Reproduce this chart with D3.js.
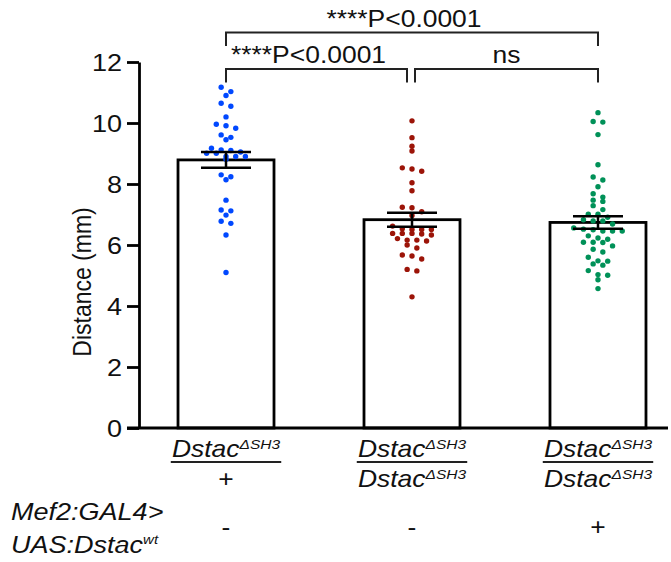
<!DOCTYPE html>
<html><head><meta charset="utf-8">
<script src="https://cdn.jsdelivr.net/npm/d3@7"></script>
<style>body{margin:0;background:#fff} text{font-family:"Liberation Sans",Arial,Helvetica,sans-serif;fill:#111}</style>
</head><body><svg id="c" width="671" height="562"></svg>
<script>
// ---------- data ----------
const groups = ["ctrl", "mutant", "rescue"];
const means = [8.79, 6.83, 6.74];
const sems = [0.26, 0.23, 0.205];
const colors = ["#0048ff", "#9c1408", "#009158"];
const ctrlValues = [11.17, 11.03, 10.90, 10.65, 10.55, 10.20, 9.96, 9.91, 9.83, 9.61, 9.53, 9.45, 9.17, 9.12, 9.10, 9.05, 9.01, 9.01, 8.90, 8.90, 8.90, 8.81, 8.30, 8.24, 8.14, 7.47, 7.15, 7.12, 6.98, 6.78, 6.71, 6.33, 5.10];
const mutantValues = [10.07, 9.52, 9.24, 9.08, 8.53, 8.49, 8.42, 8.04, 7.78, 7.24, 7.22, 7.09, 6.97, 6.62, 6.53, 6.51, 6.51, 6.51, 6.38, 6.38, 6.38, 6.36, 6.33, 6.21, 6.16, 6.16, 6.13, 6.00, 5.90, 5.67, 5.64, 5.54, 5.20, 5.15, 4.30];
const rescueValues = [10.34, 10.05, 10.03, 9.62, 8.63, 8.23, 8.13, 7.91, 7.68, 7.57, 7.47, 7.43, 7.29, 7.16, 7.01, 7.01, 6.91, 6.83, 6.79, 6.79, 6.69, 6.56, 6.52, 6.50, 6.46, 6.46, 6.46, 6.30, 6.23, 6.19, 6.09, 6.09, 6.08, 5.97, 5.86, 5.77, 5.60, 5.48, 5.47, 5.38, 5.34, 5.16, 5.03, 5.01, 4.86, 4.57];
const yTicks = [0, 2, 4, 6, 8, 10, 12];
const yTitle = "Distance (mm)";
const numerators = [{base: "Dstac", sup: "ΔSH3"}, {base: "Dstac", sup: "ΔSH3"}, {base: "Dstac", sup: "ΔSH3"}];
const denominators = [{base: "+", sup: ""}, {base: "Dstac", sup: "ΔSH3"}, {base: "Dstac", sup: "ΔSH3"}];
const transgeneLabel = [{base: "Mef2:GAL4>", sup: ""}, {base: "UAS:Dstac", sup: "wt"}];
const transgene = ["-", "-", "+"];
const comparisons = [
  {from: 0, to: 2, label: "****P<0.0001", level: 2},
  {from: 0, to: 1, label: "****P<0.0001", level: 1},
  {from: 1, to: 2, label: "ns", level: 1}
];

// ---------- drawing ----------
const allValues = [ctrlValues, mutantValues, rescueValues];
const SX = 1.15; // horizontal text stretch of the original figure
const svg = d3.select("#c");
const y = d3.scaleLinear().domain([0, 12]).range([428, 62]);
const x = d3.scaleBand().domain(groups).range([133, 691]).paddingInner(0.4839).paddingOuter(0.242);
const cx = i => x(groups[i]) + x.bandwidth() / 2;

// bars
svg.selectAll("rect.bar").data(groups).join("rect")
  .attr("x", d => x(d)).attr("y", (d, i) => y(means[i]))
  .attr("width", x.bandwidth()).attr("height", (d, i) => y(0) - y(means[i]))
  .attr("fill", "#fff").attr("stroke", "#000").attr("stroke-width", 2.8);

// dots (row-based scatter like GraphPad)
function layout(values, c) {
  const sorted = values.slice().sort((a, b) => b - a);
  const rows = []; let cur = null;
  sorted.forEach(v => {
    const py = y(v);
    if (cur && py - cur.start < 4.6) cur.pts.push(v);
    else { cur = {start: py, pts: [v]}; rows.push(cur); }
  });
  const out = [];
  rows.forEach(r => {
    const n = r.pts.length;
    r.pts.forEach((v, i) => out.push({v, x: c + (i - (n - 1) / 2) * 9.7}));
  });
  return out;
}
allValues.forEach((vals, i) => {
  svg.append("g").selectAll("circle").data(layout(vals, cx(i))).join("circle")
    .attr("cx", d => d.x).attr("cy", d => y(d.v)).attr("r", 2.7).attr("fill", colors[i]);
});

// error bars
groups.forEach((g, i) => {
  const e = svg.append("g").attr("stroke", "#000").attr("stroke-width", 2.5);
  const c = cx(i);
  e.append("line").attr("x1", c).attr("x2", c).attr("y1", y(means[i] + sems[i])).attr("y2", y(means[i] - sems[i]));
  [means[i] + sems[i], means[i] - sems[i]].forEach(v =>
    e.append("line").attr("x1", c - 25).attr("x2", c + 25).attr("y1", y(v)).attr("y2", y(v)));
});

// y axis
const ax = svg.append("g").attr("transform", "translate(139,0)")
  .call(d3.axisLeft(y).tickValues(yTicks).tickSize(12).tickSizeOuter(0).tickFormat(d3.format("d")));
ax.select(".domain").attr("stroke", "#000").attr("stroke-width", 2.8);
ax.selectAll(".tick line").attr("stroke", "#000").attr("stroke-width", 2.8);
ax.selectAll(".tick text").attr("x", -17 / SX).attr("dy", "0.36em")
  .attr("transform", `scale(${SX},1)`).style("font-size", "23.5px")
  .style("font-family", '"Liberation Sans",Arial,sans-serif').attr("fill", "#111");
// x axis line
svg.append("line").attr("x1", 127).attr("x2", 668).attr("y1", y(0)).attr("y2", y(0))
  .attr("stroke", "#000").attr("stroke-width", 2.8);

// y title
svg.append("text").attr("transform", `translate(91,282) scale(${SX},1) rotate(-90)`)
  .attr("text-anchor", "middle").style("font-size", "23px").text(yTitle);

// helper for base + superscript
function label(g, item, baseline, size, supSize, supRise, anchor) {
  const t = g.append("text").attr("y", baseline).attr("text-anchor", anchor || "middle")
    .style("font-size", size + "px").style("font-style", "italic");
  t.append("tspan").text(item.base);
  if (item.sup) t.append("tspan").attr("dy", -supRise).style("font-size", supSize + "px").text(item.sup);
  return t;
}
groups.forEach((g, i) => {
  const gg = svg.append("g").attr("transform", `translate(${cx(i)},0) scale(${SX},1)`);
  const t = label(gg, numerators[i], 457, 23, 13.5, 8);
  const bb = t.node().getBBox();
  gg.append("line").attr("x1", bb.x - 1).attr("x2", bb.x + bb.width + 1)
    .attr("y1", 462).attr("y2", 462).attr("stroke", "#222").attr("stroke-width", 2);
  const d = label(gg, denominators[i], 487, 23, 13.5, 8);
  if (!denominators[i].sup) d.style("font-style", "normal");
  gg.append("text").attr("y", 535).attr("text-anchor", "middle").style("font-size", "23px").text(transgene[i]);
});
const lg = svg.append("g").attr("transform", `translate(11,0) scale(${SX},1)`);
label(lg, transgeneLabel[0], 520, 23.5, 13, 9, "start");
label(lg, transgeneLabel[1], 553, 23.5, 13, 9, "start");

// significance brackets
const levelY = {1: 69, 2: 32.5};
comparisons.forEach(c => {
  let x1 = cx(c.from), x2 = cx(c.to);
  const adjacentShared = comparisons.some(o => o !== c && o.level === c.level);
  if (adjacentShared && c.level === 1) { if (c.to === 1) x2 -= 5; if (c.from === 1) x1 += 3; }
  const yy = levelY[c.level];
  svg.append("path").attr("d", `M${x1},${yy + 13.5}V${yy}H${x2}V${yy + 13.5}`)
    .attr("fill", "none").attr("stroke", "#222").attr("stroke-width", 2);
  const mid = (x1 + x2) / 2 + (c.label.length > 3 ? -8 : 0);
  svg.append("text").attr("transform", `translate(${mid},${yy - 6}) scale(${SX},1)`)
    .attr("text-anchor", "middle").style("font-size", "23px").text(c.label);
});
</script></body></html>
